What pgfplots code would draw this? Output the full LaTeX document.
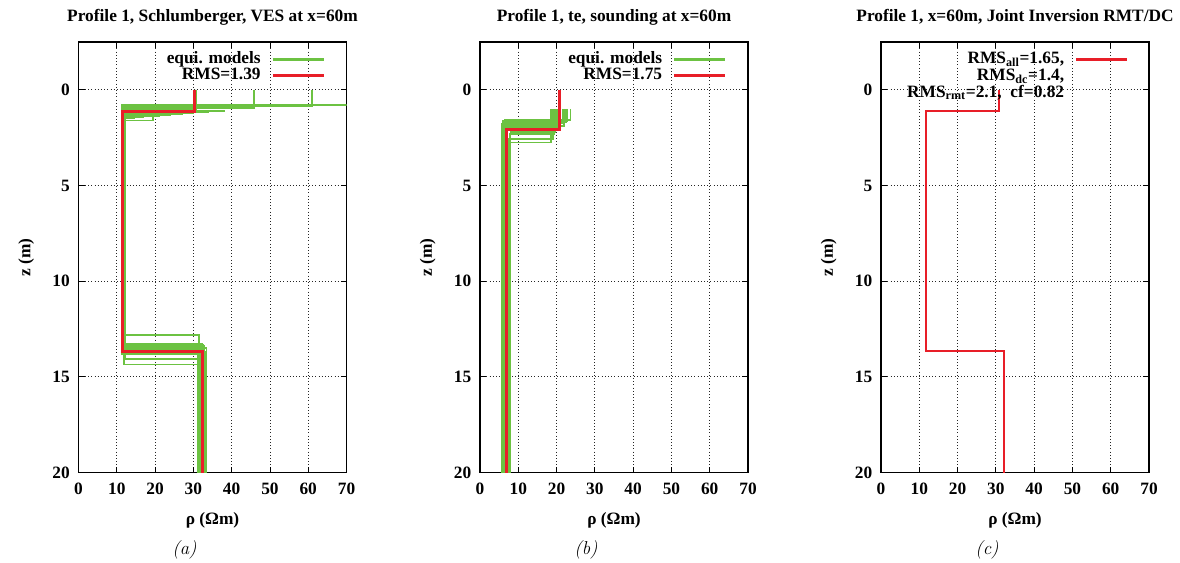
\documentclass[border=0pt]{standalone}
\usepackage{fontspec}
\usepackage{pgfplots}
\pgfplotsset{compat=1.18}
\newfontfamily\tnr{Liberation Serif}
\definecolor{eqgreen}{RGB}{108,194,66}
\definecolor{rmsred}{RGB}{232,30,40}
\newcommand{\gfont}{\tnr\bfseries\fontsize{13}{15}\selectfont}
\tikzset{
  gr/.style={color=eqgreen, line width=1.15pt, line join=miter},
  rd/.style={color=rmsred, line width=2.3pt, line join=miter},
}
\pgfplotsset{
  panel/.style={
    scale only axis, width=201pt, height=322.875pt,
    xmin=0, xmax=70, ymin=-2.5, ymax=20, y dir=reverse,
    xtick={0,10,...,70}, ytick={0,5,10,15,20},
    grid=major, grid style={dotted, black!85, line width=0.6pt},
    tick align=inside, major tick length=4.5pt,
    tick style={black, line width=0.6pt},
    axis line style={line width=0.9pt},
    clip mode=individual,
    /pgf/number format/assume math mode=true,
    ticklabel style={font=\gfont},
    xticklabel style={yshift=-4.5pt},
    yticklabel style={xshift=-3pt},
    label style={font=\gfont},
    title style={font=\gfont, at={(0.5,1.0488)}, anchor=base, yshift=-6pt},
    xlabel={ρ (Ωm)}, ylabel={z (m)},
    xlabel style={at={(0.5,-0.12)}, anchor=base},
    ylabel style={at={(-0.195,0.5)}, anchor=center},
    legend style={draw=none, fill=none, inner sep=0pt, outer sep=0pt,
      font=\gfont, cells={anchor=east}, row sep=0pt, column sep=8pt,
      at={(0.920,0.978)}, anchor=north east,
      nodes={inner sep=0pt, text height=9pt, text depth=3pt}},
    legend plot pos=right,
    legend image code/.code={\draw[##1] (0pt,0pt) -- (38pt,0pt);},
  },
  greenleg/.style={legend image code/.code={\draw[color=eqgreen, line width=1.7pt] (0pt,0pt) -- (38pt,0pt);}},
}
\newcommand{\capt}[1]{\node[font=\fontsize{14}{16}\selectfont\itshape, anchor=base] at (axis description cs:0.3955,-0.19) {#1};}
\begin{document}
\begin{tikzpicture}
\useasboundingbox (0,0) rectangle (885pt,-421.5pt);
% ---------------- (a)
\begin{axis}[panel, at={(58.875pt,-354.375pt)}, anchor=south west,
  title={Profile 1, Schlumberger, VES at x=60m}]
\addlegendimage{greenleg}
\addlegendentry{equi. models}
\addplot[gr,forget plot] coordinates {(80,0)(80,0.80)(11.2,0.80)(11.2,13.40)(32.0,13.40)(32.0,20)};
\addplot[gr,forget plot] coordinates {(61.0,0)(61.0,0.84)(11.4,0.84)(11.4,13.55)(31.6,13.55)(31.6,20)};
\addplot[gr,forget plot] coordinates {(45.9,0)(45.9,0.95)(11.5,0.95)(11.5,13.30)(32.6,13.30)(32.6,20)};
\addplot[gr,forget plot] coordinates {(30.6,0)(30.6,0.90)(11.9,0.90)(11.9,13.70)(33.0,13.70)(33.0,20)};
\addplot[gr,forget plot] coordinates {(30.2,0)(30.2,1.00)(12.1,1.00)(12.1,13.60)(31.9,13.60)(31.9,20)};
\addplot[gr,forget plot] coordinates {(30.4,0)(30.4,1.08)(38,1.08)(38,1.12)(11.8,1.12)(11.8,13.45)(32.2,13.45)(32.2,20)};
\addplot[gr,forget plot] coordinates {(30.4,0)(30.4,1.08)(34,1.08)(34,1.17)(11.7,1.17)(11.7,13.50)(31.4,13.50)(31.4,20)};
\addplot[gr,forget plot] coordinates {(30.4,0)(30.4,1.10)(30,1.10)(30,1.22)(12.0,1.22)(12.0,13.35)(32.8,13.35)(32.8,20)};
\addplot[gr,forget plot] coordinates {(30.4,0)(30.4,1.10)(27,1.10)(27,1.27)(11.6,1.27)(11.6,13.65)(31.7,13.65)(31.7,20)};
\addplot[gr,forget plot] coordinates {(30.4,0)(30.4,1.10)(24,1.10)(24,1.32)(11.9,1.32)(11.9,13.25)(32.3,13.25)(32.3,20)};
\addplot[gr,forget plot] coordinates {(30.4,0)(30.4,1.10)(21,1.10)(21,1.37)(11.5,1.37)(11.5,13.75)(33.2,13.75)(33.2,20)};
\addplot[gr,forget plot] coordinates {(30.4,0)(30.4,1.10)(19.4,1.10)(19.4,1.61)(11.4,1.61)(11.4,12.82)(31.5,12.82)(31.5,20)};
\addplot[gr,forget plot] coordinates {(30.4,0)(30.4,1.10)(17,1.10)(17,1.43)(12.2,1.43)(12.2,14.06)(31.8,14.06)(31.8,20)};
\addplot[gr,forget plot] coordinates {(30.4,0)(30.4,1.10)(14.5,1.10)(14.5,1.48)(11.9,1.48)(11.9,14.36)(31.6,14.36)(31.6,20)};
\addplot[gr,forget plot] coordinates {(30.8,0)(30.8,1.05)(11.6,1.05)(11.6,13.50)(33.4,13.50)(33.4,20)};
\addplot[gr,forget plot] coordinates {(30.0,0)(30.0,1.15)(11.3,1.15)(11.3,13.80)(31.2,13.80)(31.2,20)};
\addplot[rd] coordinates {(30.4,0)(30.4,1.13)(11.6,1.13)(11.6,13.66)(32.3,13.66)(32.3,20)};
\addlegendentry{RMS=1.39}
\capt{(a)}
\end{axis}
% ---------------- (b)
\begin{axis}[panel, at={(360pt,-354.375pt)}, anchor=south west,
  title={Profile 1, te, sounding at x=60m}]
\addlegendimage{greenleg}
\addlegendentry{equi. models}
\addplot[gr,forget plot] coordinates {(18.5,1.0)(18.5,2.74)(7.6,2.74)(7.6,20)};
\addplot[gr,forget plot] coordinates {(19.0,1.0)(19.0,2.57)(7.3,2.57)(7.3,20)};
\addplot[gr,forget plot] coordinates {(19.6,1.0)(19.6,2.20)(8.0,2.20)(8.0,20)};
\addplot[gr,forget plot] coordinates {(20.2,1.0)(20.2,1.97)(6.2,1.97)(6.2,20)};
\addplot[gr,forget plot] coordinates {(20.9,1.0)(20.9,1.85)(6.6,1.85)(6.6,20)};
\addplot[gr,forget plot] coordinates {(21.6,1.0)(21.6,1.76)(5.8,1.76)(5.8,20)};
\addplot[gr,forget plot] coordinates {(22.4,1.0)(22.4,1.68)(6.0,1.68)(6.0,20)};
\addplot[gr,forget plot] coordinates {(23.6,1.0)(23.6,1.58)(6.4,1.58)(6.4,20)};
\addplot[gr,forget plot] coordinates {(20.0,1.0)(20.0,2.10)(7.2,2.10)(7.2,20)};
\addplot[gr,forget plot] coordinates {(21.9,1.0)(21.9,1.90)(6.8,1.90)(6.8,20)};
\addplot[gr,forget plot] coordinates {(19.3,1.0)(19.3,2.30)(7.7,2.30)(7.7,20)};
\addplot[gr,forget plot] coordinates {(22.9,1.0)(22.9,1.62)(5.9,1.62)(5.9,20)};
\addplot[rd] coordinates {(20.7,0)(20.7,2.05)(7.0,2.05)(7.0,20)};
\addlegendentry{RMS=1.75}
\capt{(b)}
\end{axis}
% ---------------- (c)
\begin{axis}[panel, at={(660.75pt,-354.375pt)}, anchor=south west,
  title={Profile 1, x=60m, Joint Inversion RMT/DC},
  legend style={row sep=0.6pt}]
\addplot[rd, line width=1.6pt] coordinates {(30.9,0)(30.9,1.09)(11.8,1.09)(11.8,13.65)(32.2,13.65)(32.2,20)};
\addlegendentry{RMS\textsubscript{all}=1.65,}
\addlegendimage{empty legend}
\addlegendentry{RMS\textsubscript{dc}=1.4,}
\addlegendimage{empty legend}
\addlegendentry{RMS\textsubscript{rmt}=2.1,\ \ cf=0.82}
\capt{(c)}
\end{axis}
\end{tikzpicture}
\end{document}
